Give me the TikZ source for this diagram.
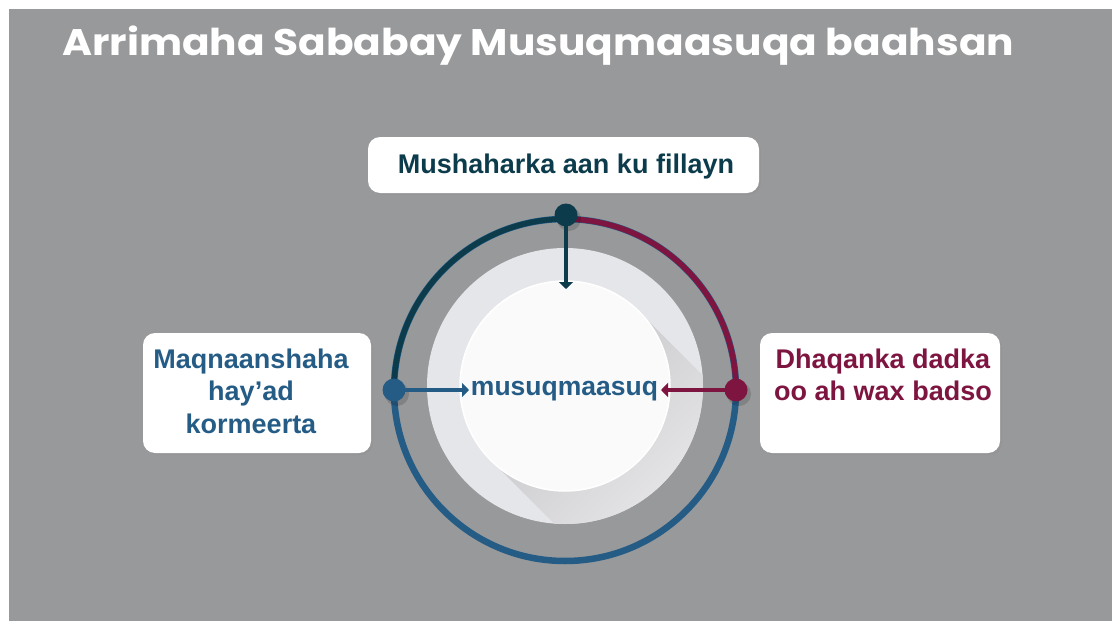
\documentclass[tikz,border=0pt]{standalone}
\usepackage{fontspec}
\setmainfont{Liberation Sans}
\newfontfamily\titlefont{Poppins}[FakeStretch=1.1]
\usetikzlibrary{arrows.meta,shadows}
\definecolor{bggray}{HTML}{98999B}
\definecolor{cteal}{HTML}{0C3B4B}
\definecolor{cblue}{HTML}{255C86}
\definecolor{cmaroon}{HTML}{7E1541}
\definecolor{lightdisk}{HTML}{E5E6E9}
\definecolor{whitedisk}{HTML}{FAFAFB}
\definecolor{shadowdark}{HTML}{C4C4C6}
\definecolor{shadowlight}{HTML}{ECECEE}
\tikzset{
  labelbox/.style={rectangle, rounded corners=12pt, fill=white, draw=none,
    drop shadow={opacity=0.12, shadow xshift=2pt, shadow yshift=-2pt}},
  labeltext/.style={font=\bfseries\fontsize{27}{32.5}\selectfont, align=center, inner sep=0pt},
  ringdot/.style={circle, minimum size=23pt, inner sep=0pt},
  pointer/.style={line width=4.5pt, -{Triangle[length=7pt,width=14pt]}},
}
\begin{document}
\begin{tikzpicture}[x=1pt,y=-1pt]
\useasboundingbox (0,0) rectangle (1112,621);
\fill[bggray] (9,9) rectangle (1112,621);
% title
\node[anchor=base west, inner sep=0pt, text=white, font=\titlefont\bfseries\fontsize{37}{40}\selectfont] (title) at (62,55) {Arrimaha Sababay Musuqmaasuqa baahsan};
% light disk and long shadow
\fill[lightdisk] (565,386) circle (138);
\begin{scope}
  \clip (565,386) circle (138);
  \shade[top color=shadowdark, bottom color=shadowlight, shading angle=45]
    (639.2,311.8) -- (739.2,411.8) -- (590.8,560.2) -- (490.8,460.2) -- cycle;
\end{scope}
% white disk
\fill[whitedisk, draw=white, line width=1.5pt] (565,386) circle (105);
% ring
\draw[cblue, line width=6.5pt] (565,390) circle (171);
\draw[cteal, line width=5.5pt] (565,390) ++(180:171) arc (180:270:171);
\draw[cmaroon, line width=5.5pt] (565,390) ++(270:171) arc (270:360:171);
% dot shadows
\fill[black, opacity=0.15] (569,219) circle (12);
\fill[black, opacity=0.15] (397,394) circle (12);
\fill[black, opacity=0.15] (739,394) circle (12);
% dots
\node[ringdot, fill=cteal] (dtop) at (566,215) {};
\node[ringdot, fill=cblue] (dleft) at (394,390) {};
\node[ringdot, fill=cmaroon] (dright) at (736,390) {};
% arrow ends
\coordinate (etop) at (566,289);
\coordinate (eleft) at (469,390);
\coordinate (eright) at (661,390);
\draw[pointer, cteal] (dtop.center) -- (etop);
\draw[pointer, cblue] (dleft.center) -- (eleft);
\draw[pointer, cmaroon] (dright.center) -- (eright);
% centre text
\node[anchor=base, inner sep=0pt, text=cblue, font=\bfseries\fontsize{26.5}{30}\selectfont] (centre) at (564.5,395) {musuqmaasuq};
% boxes
\node[labelbox, minimum width=391pt, minimum height=56pt] (topbox) at (563.5,165) {};
\node[labeltext, text=cteal, anchor=base] (toptext) at (566,173) {Mushaharka aan ku fillayn};
\node[labelbox, minimum width=228pt, minimum height=120pt] (leftbox) at (257,393) {};
\node[labeltext, text=cblue] (lefttext) at (251,391) {Maqnaanshaha\\hay’ad\\kormeerta};
\node[labelbox, minimum width=240pt, minimum height=120pt] (rightbox) at (880,393) {};
\node[labeltext, text=cmaroon] (righttext) at (883,375) {Dhaqanka dadka\\oo ah wax badso};
\end{tikzpicture}
\end{document}
